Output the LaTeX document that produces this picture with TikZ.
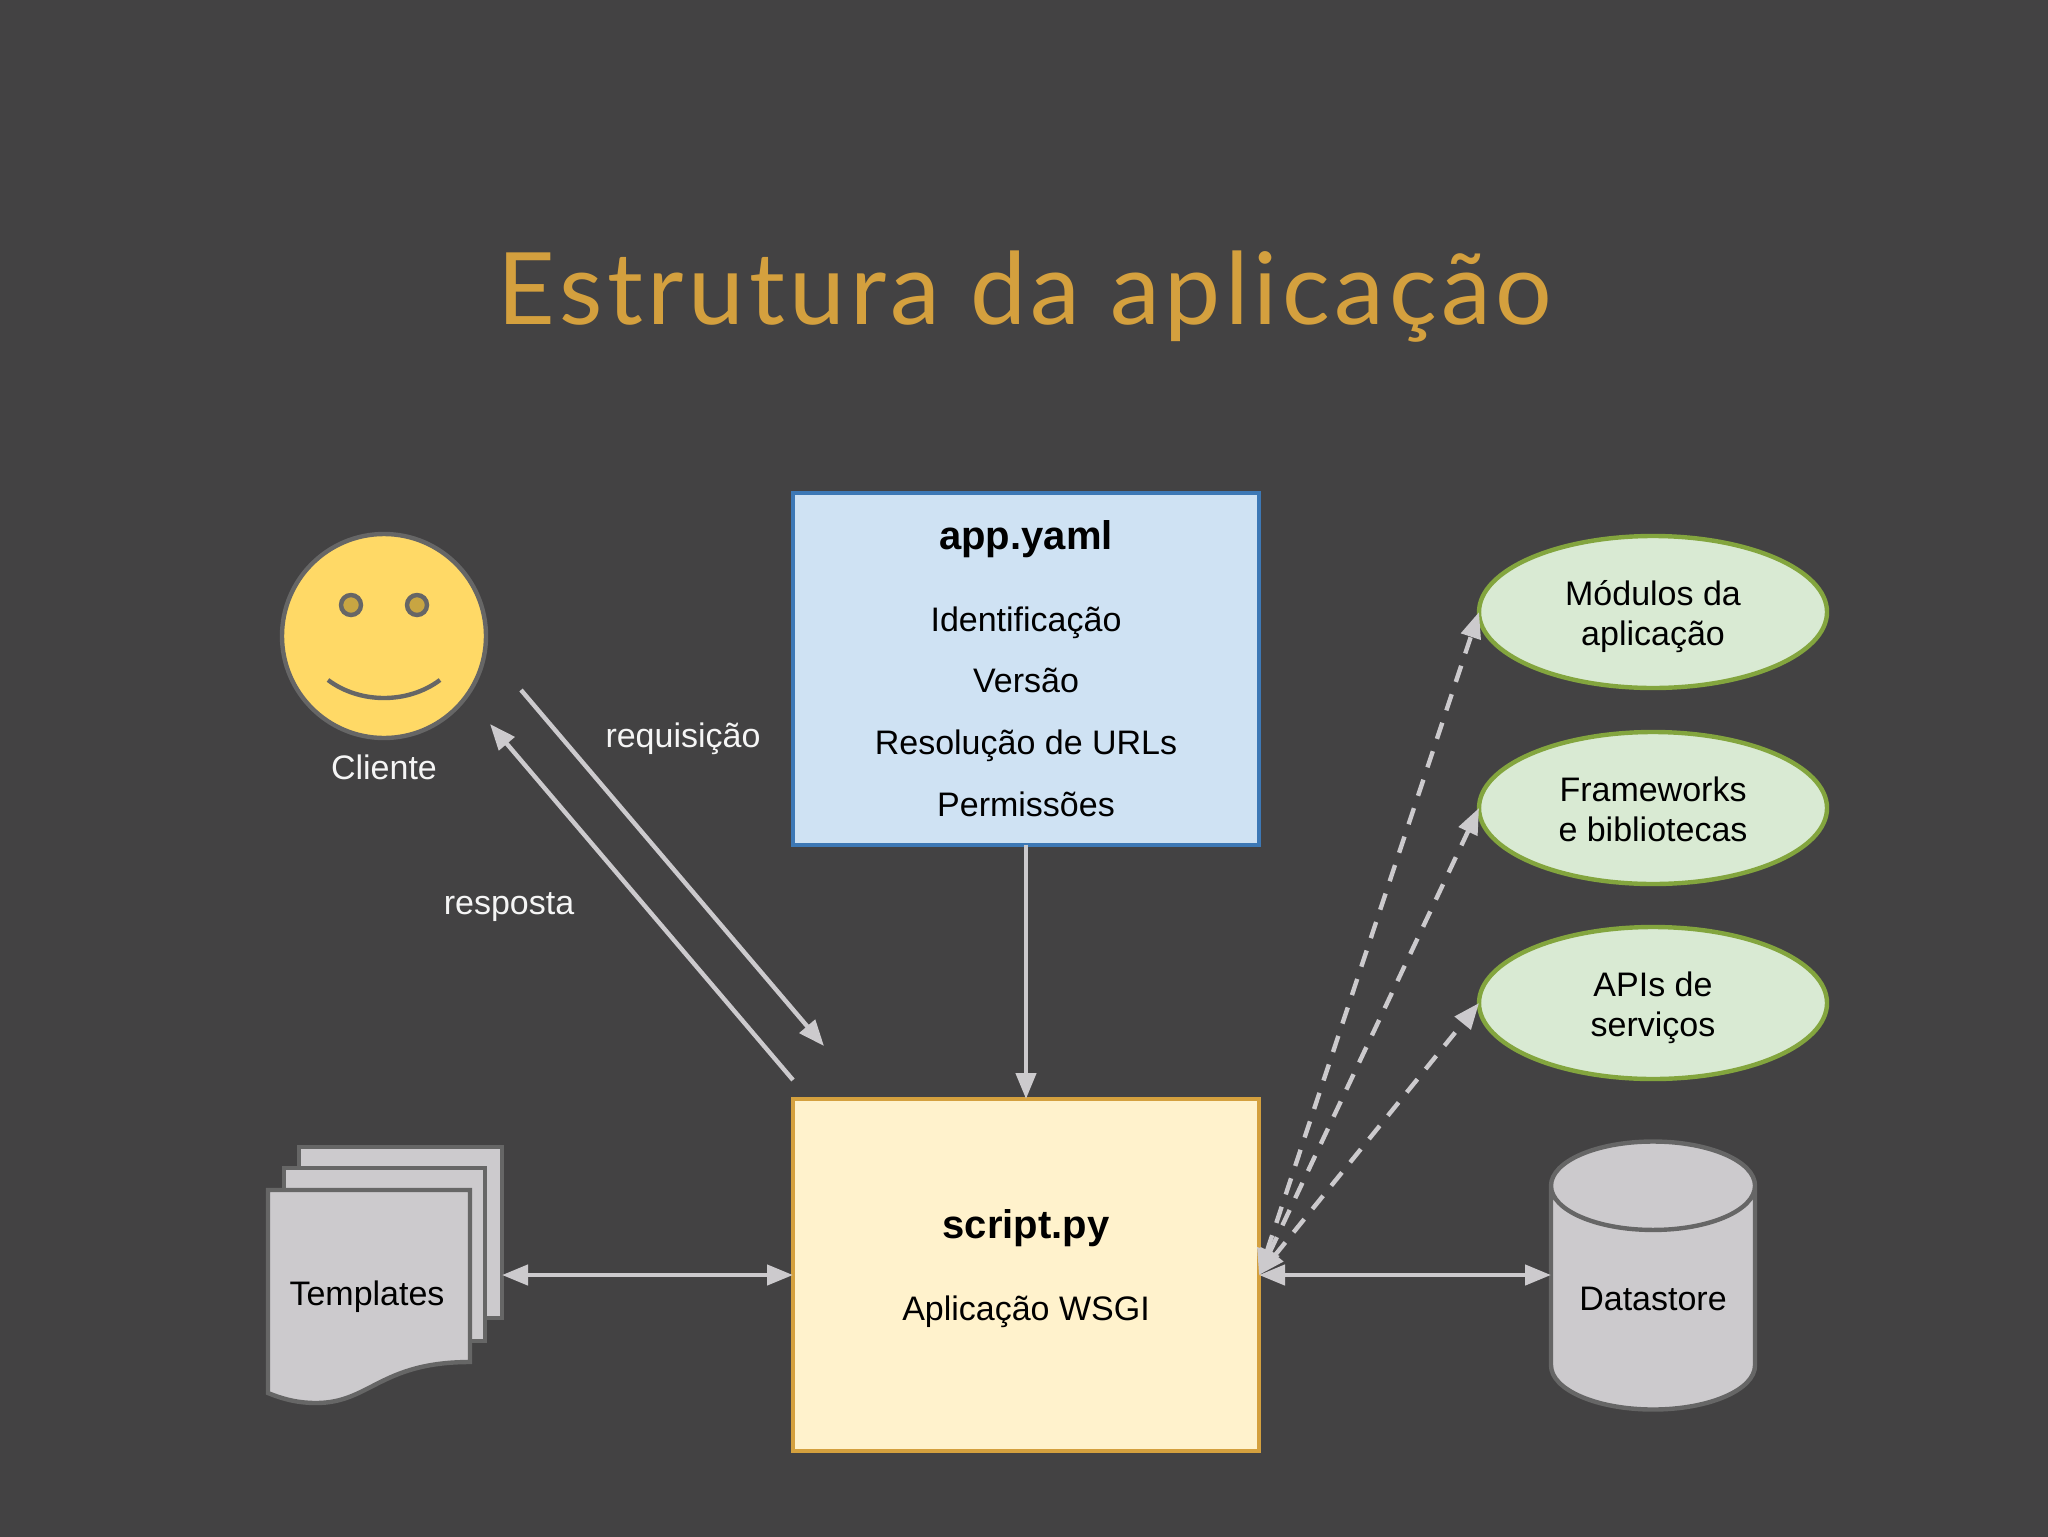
\documentclass[tikz,border=0pt]{standalone}
\usepackage{fontspec}
\setmainfont{Liberation Sans}
\newfontfamily\titlefont[LetterSpace=4.6]{Lato}
\usetikzlibrary{arrows.meta, positioning, shapes.geometric}
\definecolor{slidebg}{HTML}{434243}
\definecolor{titlecol}{HTML}{D4A03E}
\definecolor{lightline}{HTML}{CCCACD}
\definecolor{darkline}{HTML}{666666}
\definecolor{lighttext}{HTML}{F5F5F5}
\definecolor{appborder}{HTML}{3D78B5}
\definecolor{appfill}{HTML}{CFE2F3}
\definecolor{scriptfill}{HTML}{FFF2CC}
\definecolor{facefill}{HTML}{FFD966}
\definecolor{eyefill}{HTML}{C8A542}
\definecolor{libborder}{HTML}{83A53E}
\definecolor{libfill}{HTML}{D9EAD3}
\newcommand{\twolines}[2]{\rule{0pt}{17.3pt}#1\\\rule[-4pt]{0pt}{4pt}#2}
\tikzset{
    bodyfont/.style={font=\fontsize{17}{20.2}\selectfont},
    configbox/.style={draw=#1, line width=2pt, outer sep=0pt, minimum width=233pt, minimum height=176pt, inner sep=0pt, align=center},
    libnode/.style={ellipse, draw=libborder, fill=libfill, line width=2.2pt, outer sep=0pt, minimum width=174pt, minimum height=76pt, inner sep=0pt, align=center, bodyfont},
    flow/.style={draw=lightline, line width=2.2pt, -{Triangle[length=13pt,width=10pt]}},
    flowboth/.style={flow, {Triangle[length=13pt,width=10pt]}-{Triangle[length=13pt,width=10pt]}},
    flowdash/.style={flowboth, dash pattern=on 8.5pt off 6.5pt},
    pagesheet/.style={draw=darkline, fill=lightline, line width=2.2pt},
    lighttxt/.style={text=lighttext, bodyfont},
}
\begin{document}
\begin{tikzpicture}[x=0.5pt,y=-0.5pt]
\useasboundingbox (0,0) rectangle (2048,1536);
\fill[slidebg] (-10,-10) rectangle (2058,1546);

% Title
\node[text=titlecol, font=\titlefont\fontsize{50}{60}\selectfont] (title) at (1025,297) {Estrutura da aplicação};

% Config and script boxes
\node[configbox=appborder, fill=appfill, font=\fontsize{17}{30.9}\selectfont] (app) at (1026,668.5)
    {{\fontsize{20}{24}\selectfont\bfseries app.yaml}\\[10pt] Identificação\\ Versão\\ Resolução de URLs\\ Permissões};
\node[configbox=titlecol, fill=scriptfill] (script) at (1026,1275) {};
\node[font=\fontsize{17}{20}\selectfont, align=center] (scripttext) at (1026,1269)
    {{\fontsize{20}{24}\selectfont\bfseries script.py}\\[21pt] Aplicação WSGI};

% Client
\node[circle, draw=darkline, fill=facefill, line width=2.2pt, minimum size=102pt, inner sep=0pt] (cliente) at (384,636) {};
\node[lighttxt] (clientelabel) at (384,767) {Cliente};
\foreach \ex in {-33,33}
    \draw[darkline, line width=2.2pt, fill=eyefill] (384+\ex,605) circle (5pt);
\draw[darkline, line width=2.2pt] (328,680) .. controls (360,704) and (408,704) .. (440,680);

% Request and response
\coordinate (reqstart) at (521,690);
\coordinate (reqend) at (824,1046);
\coordinate (respstart) at (793,1080);
\coordinate (respend) at (490,724);
\draw[flow] (reqstart) -- (reqend);
\draw[flow] (respstart) -- (respend);
\node[lighttxt] (reqlabel) at (683,739) {requisição};
\node[lighttxt] (resplabel) at (509,907) {resposta};

% Templates
\coordinate (tmplport) at (502,1275);
\draw[pagesheet] (299,1147) rectangle (502,1318);
\draw[pagesheet] (284,1168) rectangle (485,1341);
\draw[pagesheet] (268,1190) -- (470,1190) -- (470,1362) .. controls (380,1362) and (370,1403) .. (316,1403) .. controls (300,1403) and (285,1400) .. (268,1393) -- cycle;
\node[bodyfont] (templates) at (367,1297) {Templates};
\draw[flowboth] (tmplport) -- (script.west);

% Libraries
\node[libnode] (modulos) at (1653,612) {\twolines{Módulos da}{aplicação}};
\node[libnode] (frameworks) at (1653,808) {\twolines{Frameworks}{e bibliotecas}};
\node[libnode] (apis) at (1653,1003) {\twolines{APIs de}{serviços}};
\foreach \lib in {modulos, frameworks, apis}
    \draw[flowdash] (script.east) -- (\lib.west);

% Datastore
\node[cylinder, shape border rotate=90, aspect=0.6, draw=darkline, fill=lightline, line width=2.2pt, outer sep=0pt, minimum width=102pt, minimum height=134pt, inner sep=0pt, bodyfont, anchor=shape center] (datastore) at (1653,1275.5) {Datastore};
\draw[flowboth] (script.east) -- (script.east -| datastore.west);

\draw[flow] (app.south) -- (script.north);
\end{tikzpicture}
\end{document}
